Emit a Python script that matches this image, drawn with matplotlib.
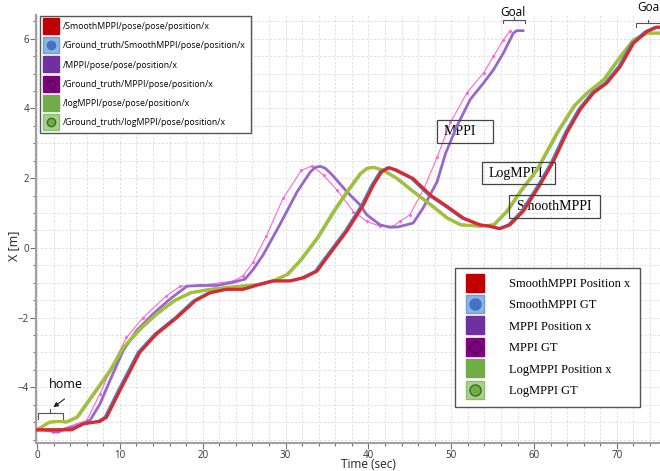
import matplotlib
matplotlib.use('Agg')
import matplotlib.pyplot as plt
from matplotlib.lines import Line2D
from matplotlib.patches import Rectangle
from matplotlib.legend_handler import HandlerTuple
from matplotlib.ticker import MultipleLocator

# --- data ---
smooth_t = [0, 4.2, 5.6, 7.6, 8.4, 10, 12.4, 14.4, 16.9, 19.1, 20.9, 22.9, 24.9, 26.9, 28.5,
            30.6, 32.2, 33.8, 35.0, 37.4, 39.4, 40.6, 41.6, 42.5, 43.3, 45.4, 47.5, 49.5,
            51.5, 53.5, 54.7, 55.9, 57.1, 58.7, 60.7, 62.3, 64.0, 65.6, 67.2, 68.8, 70.4,
            72.0, 73.6, 74.8, 75.5]
smooth_x = [-5.22, -5.22, -5.05, -4.98, -4.86, -4.1, -3.0, -2.48, -2.0, -1.52, -1.29, -1.19,
            -1.19, -1.05, -0.95, -0.95, -0.86, -0.67, -0.28, 0.48, 1.23, 1.8, 2.18, 2.3,
            2.24, 1.99, 1.51, 1.19, 0.85, 0.66, 0.62, 0.55, 0.66, 1.05, 1.8, 2.46, 3.32,
            3.98, 4.45, 4.73, 5.2, 5.87, 6.2, 6.33, 6.33]

smooth_gt_t = [0, 4.0, 5.4, 7.4, 8.2, 9.8, 12.2, 14.2, 16.7, 18.9, 20.7, 22.7, 24.7, 26.7,
               28.3, 30.4, 32.0, 33.6, 34.8, 37.2, 39.2, 40.4, 41.4, 42.3, 43.1, 45.2, 47.3,
               49.3, 51.3, 53.3, 54.5, 55.7, 56.9, 58.5, 60.5, 62.1, 63.8, 65.4, 67.0, 68.6,
               70.2, 71.8, 73.4, 74.6, 75.5]
smooth_gt_x = [-5.22, -5.22, -5.05, -4.98, -4.86, -4.1, -3.0, -2.48, -2.0, -1.52, -1.29,
               -1.19, -1.19, -1.05, -0.95, -0.95, -0.86, -0.67, -0.28, 0.48, 1.23, 1.8, 2.18,
               2.3, 2.24, 1.99, 1.51, 1.19, 0.85, 0.66, 0.62, 0.55, 0.66, 1.05, 1.8, 2.46,
               3.32, 3.98, 4.45, 4.73, 5.2, 5.87, 6.2, 6.33, 6.33]

log_t = [0, 1.5, 2.7, 3.5, 4.8, 6.8, 8.8, 10.4, 12.4, 14.4, 16.5, 18.5, 20.9, 23.7, 26.9,
         28.5, 30.2, 31.8, 33.8, 35.8, 37.4, 39.0, 39.8, 40.6, 41.8, 43.4, 45.4, 47.5, 49.5,
         51.1, 53.5, 55.1, 56.7, 58.3, 60.4, 62.8, 64.8, 66.4, 68.4, 70.4, 72.0, 73.6, 75.5]
log_x = [-5.22, -5.0, -4.98, -5.0, -4.86, -4.19, -3.52, -2.86, -2.33, -1.9, -1.52, -1.29,
         -1.19, -1.12, -1.05, -0.95, -0.76, -0.35, 0.28, 1.05, 1.61, 2.13, 2.28, 2.31, 2.22,
         1.99, 1.61, 1.23, 0.85, 0.66, 0.62, 0.66, 1.05, 1.61, 2.27, 3.32, 4.07, 4.45, 4.83,
         5.49, 5.97, 6.16, 6.16]

log_gt_t = [0, 1.6, 2.8, 3.6, 4.9, 6.9, 8.9, 10.5, 12.5, 14.5, 16.6, 18.6, 21.0, 23.8, 27.0,
            28.6, 30.3, 31.9, 33.9, 35.9, 37.5, 39.1, 39.9, 40.7, 41.9, 43.5, 45.5, 47.6, 49.6,
            51.2, 53.6, 55.2, 56.8, 58.4, 60.5, 62.9, 64.9, 66.5, 68.5, 70.5, 72.1, 73.7, 75.5]
log_gt_x = [-5.22, -5.0, -4.98, -5.0, -4.86, -4.19, -3.52, -2.86, -2.33, -1.9, -1.52, -1.29,
            -1.19, -1.12, -1.05, -0.95, -0.76, -0.35, 0.28, 1.05, 1.61, 2.13, 2.28, 2.31, 2.22,
            1.99, 1.61, 1.23, 0.85, 0.66, 0.62, 0.66, 1.05, 1.61, 2.27, 3.32, 4.07, 4.45, 4.83,
            5.49, 5.97, 6.16, 6.16]

mppi_t = [0, 1.5, 2.5, 3.5, 5.2, 6.4, 7.6, 8.8, 10.4, 12.0, 14.0, 16.0, 18.1, 19.7, 21.7,
          23.5, 25.1, 26.1, 27.3, 29.3, 31.4, 33.0, 33.6, 34.2, 34.8, 35.6, 37.4, 39.0, 39.8,
          41.4, 42.6, 43.6, 45.4, 46.6, 48.3, 49.3, 50.7, 52.3, 53.9, 55.1, 56.3, 57.5, 57.9,
          58.7]
mppi_x = [-5.22, -5.24, -5.29, -5.19, -5.1, -4.95, -4.48, -3.81, -2.95, -2.38, -1.9, -1.48,
          -1.1, -1.08, -1.08, -1.0, -0.9, -0.62, -0.2, 0.66, 1.61, 2.18, 2.31, 2.34, 2.28,
          2.1, 1.61, 1.23, 0.95, 0.66, 0.59, 0.6, 0.71, 1.14, 1.9, 2.7, 3.5, 4.26, 4.73, 5.11,
          5.59, 6.16, 6.23, 6.23]

mppi_gt_t = [0, 1.9, 4.8, 6.0, 7.6, 9.2, 10.8, 12.8, 15.6, 17.3, 19.7, 23.7, 24.9, 26.1,
             27.7, 29.7, 31.9, 33.2, 34.6, 36.2, 38.2, 39.8, 41.4, 43.0, 43.8, 45.0, 46.7,
             48.3, 49.9, 51.9, 53.9, 55.1, 56.3, 57.1]
mppi_gt_x = [-5.22, -5.29, -5.05, -4.95, -4.19, -3.33, -2.57, -2.0, -1.38, -1.1, -1.08, -0.95,
             -0.8, -0.4, 0.35, 1.42, 2.22, 2.35, 2.08, 1.66, 1.04, 0.76, 0.62, 0.62, 0.76,
             0.95, 1.7, 2.6, 3.6, 4.45, 5.02, 5.49, 5.97, 6.23]

labels_top = ['/SmoothMPPI/pose/pose/position/x',
              '/Ground_truth/SmoothMPPI/pose/position/x',
              '/MPPI/pose/pose/position/x',
              '/Ground_truth/MPPI/pose/position/x',
              '/logMPPI/pose/pose/position/x',
              '/Ground_truth/logMPPI/pose/position/x']
labels_bottom = ['SmoothMPPI Position x', 'SmoothMPPI GT', 'MPPI Position x',
                 'MPPI GT', 'LogMPPI Position x', 'LogMPPI GT']

fig = plt.figure(figsize=(6.6, 4.71), dpi=100)
ax = fig.add_axes([36 / 660, 28 / 471, 624 / 660, 428 / 471])

kw = dict(solid_joinstyle='round', solid_capstyle='round')
ax.plot(mppi_gt_t, mppi_gt_x, color='#ff66d9', lw=0.8, marker='o', ms=1.2, zorder=3)
ax.plot(mppi_t, mppi_x, color='#9966cc', lw=2.0, zorder=4, **kw)
ax.plot(log_gt_t, log_gt_x, color='#4fb8a8', lw=2.0, zorder=4, **kw)
ax.plot(log_t, log_x, color='#a9bf2f', lw=2.2, zorder=5, **kw)
ax.plot(smooth_gt_t, smooth_gt_x, color='#4a86c8', lw=2.0, zorder=5, **kw)
ax.plot(smooth_t, smooth_x, color='#e0262a', lw=2.2, zorder=6, **kw)

ax.set_xlim(-0.12, 75.2)
ax.set_ylim(-5.6, 6.68)
ax.xaxis.set_major_locator(MultipleLocator(10))
ax.xaxis.set_minor_locator(MultipleLocator(2))
ax.yaxis.set_major_locator(MultipleLocator(2))
ax.yaxis.set_minor_locator(MultipleLocator(0.5))
ax.grid(True, which='both', color='#dcdcdc', ls=(0, (3, 2)), lw=0.6)
ax.set_axisbelow(True)
for s in ['top', 'right']:
    ax.spines[s].set_visible(False)
for s in ['left', 'bottom']:
    ax.spines[s].set_color('#a0a0a0')
    ax.spines[s].set_linewidth(1.5)
ax.tick_params(which='major', length=4, width=0.8, color='#707070', labelsize=7,
               labelcolor='#333333', pad=1)
ax.tick_params(which='minor', length=2.5, width=0.8, color='#707070')
for lab in ax.get_xticklabels() + ax.get_yticklabels():
    lab.set_family('Open Sans')

ax.set_xlabel('Time (sec)', family='Open Sans', fontsize=8.5, color='#222222')
ax.xaxis.set_label_coords((368 - 36) / 624, -0.036)
ax.set_ylabel('X [m]', family='Open Sans', fontsize=9, color='#222222')
ax.yaxis.set_label_coords(-0.026, 0.46)

tup = {tuple: HandlerTuple(ndivide=1)}

# top-left legend
sq = dict(marker='s', ls='', ms=11)
h_top = [Line2D([], [], mfc='#c00000', mec='#c00000', **sq),
         (Line2D([], [], mfc='#8db4e2', mec='#6f9fd8', **sq),
          Line2D([], [], marker='o', ls='', ms=6, mfc='#4472c4', mec='#4472c4')),
         Line2D([], [], mfc='#7030a0', mec='#7030a0', **sq),
         (Line2D([], [], mfc='#7f007f', mec='#7f007f', **sq),
          Line2D([], [], marker='o', ls='', ms=6, mfc='#7f007f', mec='#4b004b')),
         Line2D([], [], mfc='#70ad47', mec='#70ad47', **sq),
         (Line2D([], [], mfc='#a9d18e', mec='#8cc06c', **sq),
          Line2D([], [], marker='o', ls='', ms=6, mfc='#70ad47', mec='#3d6b25'))]
leg1 = ax.legend(h_top, labels_top, loc='upper left', bbox_to_anchor=(0.006, 0.997),
                 borderaxespad=0, fancybox=False, framealpha=1, edgecolor='#555555',
                 prop={'family': 'Open Sans', 'size': 6.3}, handlelength=1.2,
                 labelspacing=1.15, handletextpad=0.7, borderpad=0.7, handler_map=tup)
leg1.get_frame().set_linewidth(1.0)
ax.add_artist(leg1)

# bottom-right legend
sq2 = dict(marker='s', ls='', ms=13)
h_bot = [Line2D([], [], mfc='#c00000', mec='#c00000', **sq2),
         (Line2D([], [], mfc='#8db4e2', mec='#6f9fd8', **sq2),
          Line2D([], [], marker='o', ls='', ms=8, mfc='#4472c4', mec='#4472c4')),
         Line2D([], [], mfc='#7030a0', mec='#7030a0', **sq2),
         (Line2D([], [], mfc='#7f007f', mec='#7f007f', **sq2),
          Line2D([], [], marker='o', ls='', ms=8, mfc='#7f007f', mec='#4b004b')),
         Line2D([], [], mfc='#70ad47', mec='#70ad47', **sq2),
         (Line2D([], [], mfc='#a9d18e', mec='#8cc06c', **sq2),
          Line2D([], [], marker='o', ls='', ms=8, mfc='#70ad47', mec='#3d6b25'))]
leg2 = ax.legend(h_bot, labels_bottom, loc='upper left',
                 bbox_to_anchor=((455 - 36) / 624, 1 - (268 - 15) / 428),
                 borderaxespad=0, fancybox=False, framealpha=1, edgecolor='#555555',
                 prop={'family': 'Liberation Serif', 'size': 9}, handlelength=1.6,
                 labelspacing=0.75, handletextpad=1.9, borderpad=0.8, handler_map=tup)
leg2.get_frame().set_linewidth(1.0)

# labelled boxes
boxes = [('MPPI', 48.3, 3.01, 6.8, 0.66),
         ('LogMPPI', 53.7, 1.82, 8.8, 0.64),
         ('SmoothMPPI', 57.0, 0.85, 10.9, 0.66)]
for name, x0, y0, w, h in boxes:
    ax.add_patch(Rectangle((x0, y0), w, h, fill=False, ec='#444444', lw=0.9, zorder=7))
    ax.text(x0 + 0.8, y0 + h / 2, name, family='Liberation Serif', fontsize=10,
            va='center', ha='left', zorder=3)

# goal / home markers
def bracket(xa, xb, yb, up=0.08, down=0.1):
    ax.plot([xa, xa, xb, xb], [yb - down, yb, yb, yb - down], color='#555555', lw=0.8,
            clip_on=False, zorder=8)
    xm = (xa + xb) / 2
    ax.plot([xm, xm], [yb, yb + up], color='#555555', lw=0.8, clip_on=False, zorder=8)

bracket(56.3, 58.9, 6.54)
ax.text(57.5, 6.76, 'Goal', family='Open Sans', fontsize=8.5, ha='center', va='center',
        clip_on=False)
bracket(72.3, 75.2, 6.45)
ax.text(72.4, 6.9, 'Goal', family='Open Sans', fontsize=8.5, ha='left', va='center',
        clip_on=False)
bracket(0.1, 3.1, -4.75, up=0.13, down=0.15)
ax.text(3.5, -3.92, 'home', family='Open Sans', fontsize=9, ha='center', va='center')
ax.annotate('', xy=(1.7, -4.62), xytext=(3.6, -4.29),
            arrowprops=dict(arrowstyle='-|>', color='#222222', lw=0.8, mutation_scale=7))

fig.savefig('out.png', dpi=100)
